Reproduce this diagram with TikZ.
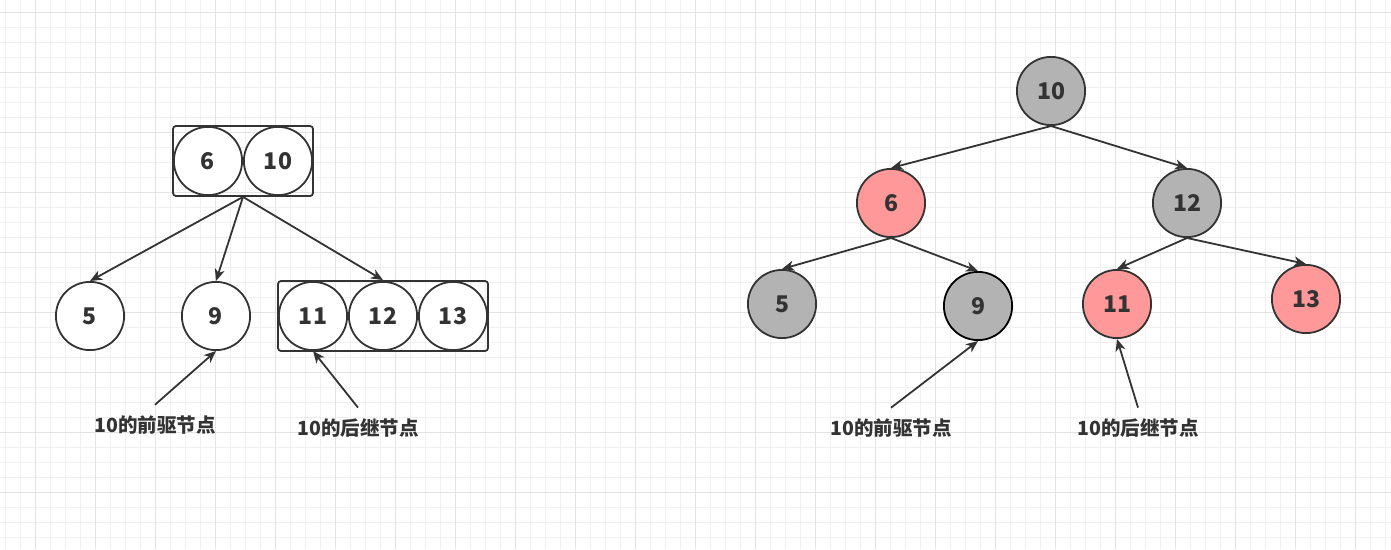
\documentclass[tikz,border=0pt]{standalone}
\usepackage{fontspec}
\setmainfont{Noto Sans CJK SC}
\usepackage{tikz}
\usetikzlibrary{positioning, arrows.meta, calc, fit}

\definecolor{inkgrey}{HTML}{333333}
\definecolor{blackfill}{HTML}{B3B3B3}
\definecolor{redfill}{HTML}{FF9999}
\definecolor{gridminor}{HTML}{F0F0F0}
\definecolor{gridmajor}{HTML}{E3E3E3}

\begin{document}
\begin{tikzpicture}[
                x=1pt, y=-1pt,
                treenode/.style={draw=inkgrey, line width=1.8pt, circle, minimum size=68.2pt, inner sep=0pt, fill=white, text=inkgrey, font=\fontsize{23}{27}\selectfont\bfseries},
                blacknode/.style={treenode, fill=blackfill},
                rednode/.style={treenode, fill=redfill},
                groupbox/.style={draw=inkgrey, line width=1.8pt, rectangle, rounded corners=3pt, inner sep=0pt},
                edge/.style={draw=inkgrey, line width=1.8pt, -{Stealth[length=12pt, width=10pt, inset=3.5pt]}},
                notelabel/.style={text=inkgrey, inner sep=2pt, outer sep=9pt, font=\fontsize{19.5}{22}\selectfont\bfseries}
            ]

            \useasboundingbox (0,0) rectangle (1391,549);

            % Raster
            \foreach \gx in {5,20,...,1391} {\draw[gridminor, line width=1pt] (\gx,0) -- (\gx,549);}
            \foreach \gy in {12,27,...,549} {\draw[gridminor, line width=1pt] (0,\gy) -- (1391,\gy);}
            \foreach \gx in {35,95,...,1391} {\draw[gridmajor, line width=1pt] (\gx,0) -- (\gx,549);}
            \foreach \gy in {12,72,...,549} {\draw[gridmajor, line width=1pt] (0,\gy) -- (1391,\gy);}

            % Knoten links
            \node[treenode] (l6) at (208,161) {6};
            \node[treenode, right=0pt of l6] (l10) {10};
            \node[groupbox, fit=(l6)(l10)] (ltop) {};
            \node[treenode] (l5) at (90,316) {5};
            \node[treenode] (l9) at (216,316) {9};
            \node[treenode] (l11) at (313,316) {11};
            \node[treenode, right=0pt of l11] (l12) {12};
            \node[treenode, right=0pt of l12] (l13) {13};
            \node[groupbox, fit=(l11)(l13)] (lright) {};
            \node[notelabel] (lpred) at (155,425) {10的前驱节点};
            \node[notelabel] (lsucc) at (358,428) {10的后继节点};

            % Knoten rechts
            \node[blacknode] (r10) at (1051,91) {10};
            \node[rednode] (r6) at (891,203) {6};
            \node[blacknode] (r12) at (1187,203) {12};
            \node[blacknode] (r5) at (782,304) {5};
            \node[blacknode, draw=black] (r9) at (978,306) {9};
            \node[rednode] (r11) at (1117,304) {11};
            \node[rednode] (r13) at (1306,299) {13};
            \node[notelabel] (rpred) at (891,428) {10的前驱节点};
            \node[notelabel] (rsucc) at (1138,428) {10的后继节点};

            % Kanten links
            \draw[edge] (ltop.south) -- (l5.north);
            \draw[edge] (ltop.south) -- (l9.north);
            \draw[edge] (ltop.south) -- (lright.north);
            \draw[edge] (lpred.north) -- (l9.south);
            \draw[edge] (lsucc.north) -- (l11.south);

            % Kanten rechts
            \draw[edge] (r10.south) -- (r6.north);
            \draw[edge] (r10.south) -- (r12.north);
            \draw[edge] (r6.south) -- (r5.north);
            \draw[edge] (r6.south) -- (r9.north);
            \draw[edge] (r12.south) -- (r11.north);
            \draw[edge] (r12.south) -- (r13.north);
            \draw[edge] (rpred.north) -- (r9.south);
            \draw[edge] (rsucc.north) -- (r11.south);

        \end{tikzpicture}
\end{document}
